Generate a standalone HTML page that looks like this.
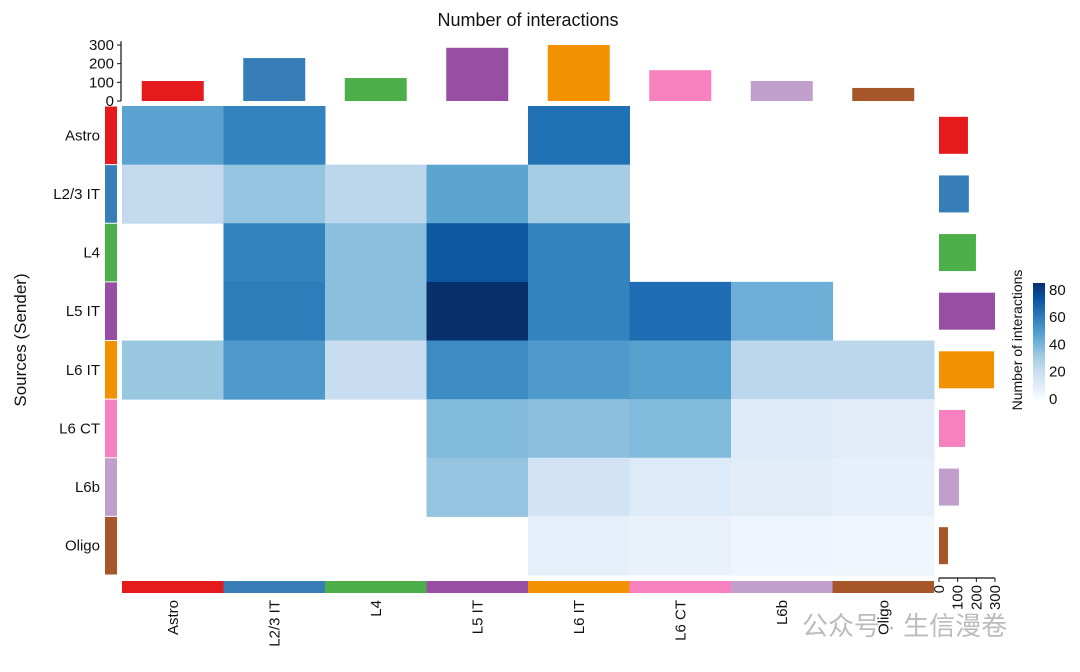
<!DOCTYPE html>
<html><head><meta charset="utf-8"><style>
body{margin:0;background:#fff;}
svg text{font-family:"Liberation Sans","Noto Sans CJK SC",sans-serif;fill:#111;}
</style></head><body>
<svg id="chart" width="1080" height="667" viewBox="0 0 1080 667" xmlns="http://www.w3.org/2000/svg">
<text x="528" y="26" font-size="18" text-anchor="middle">Number of interactions</text>
<text transform="translate(26,340) rotate(-90)" font-size="17" text-anchor="middle">Sources (Sender)</text>
<g id="g"></g>
<text x="802" y="635" font-size="26" fill="#bbb" style="fill:#bbb">公众号 · 生信漫卷</text>
</svg>
<script>
const categories=["Astro","L2/3 IT","L4","L5 IT","L6 IT","L6 CT","L6b","Oligo"];
const catColors=["#E41A1C","#377EB8","#4DAF4A","#984EA3","#F39200","#F781BF","#C09FCC","#A65628"];
const topTotals=[107,230,123,285,300,165,107,70];
const rightTotals=[155,160,198,300,295,140,107,48];
const matrix=[
[47,58,null,null,64,null,null,null],
[22,34,24,46,30,null,null,null],
[null,58,36,72,58,null,null,null],
[null,60,36,85,58,65,42,null],
[33,50,20,55,50,48,24,24],
[null,null,null,38,36,38,11,9],
[null,null,null,34,16,11,9,7],
[null,null,null,null,7,6,4,3]];
const legendTicks=[0,20,40,60,80];
const barTicks=[0,100,200,300];
const NS="http://www.w3.org/2000/svg";
const g=document.getElementById('g');
function el(t,a,p){const e=document.createElementNS(NS,t);for(const k in a)e.setAttribute(k,a[k]);(p||g).appendChild(e);return e;}
const X0=122,X1=934,Y0=106,Y1=575,n=categories.length;
const cw=(X1-X0)/n,ch=(Y1-Y0)/n;
const xCol=i=>X0+i*cw, yRow=i=>Y0+i*ch;
const stops=[[247,251,255],[222,235,247],[198,219,239],[158,202,225],[107,174,214],[66,146,198],[33,113,181],[8,81,156],[8,48,107]];
function blue(v){let t=Math.max(0,Math.min(1,v/85))*(stops.length-1);const i=Math.min(stops.length-2,Math.floor(t)),f=t-i;const c=stops[i].map((s,k)=>Math.round(s+(stops[i+1][k]-s)*f));return `rgb(${c})`;}
matrix.forEach((row,r)=>row.forEach((v,c)=>{if(v===null)return;
 const e=el('rect',{x:xCol(c),y:yRow(r),width:cw+0.5,height:ch+0.5,fill:blue(v)});
 
 }));
const topS=v=>101-v*(56/300), rightS=v=>939+v*(56/300);
categories.forEach((name,i)=>{
 let e=el('rect',{x:105,y:yRow(i)+0.5,width:12,height:ch-1,fill:catColors[i]});
 
 
 e=el('rect',{x:xCol(i),y:581,width:cw,height:12,fill:catColors[i]});
 
 
 e=el('text',{x:100,y:yRow(i)+ch/2+5,'font-size':15,'text-anchor':'end'});e.textContent=name;
 
 
 e=el('text',{transform:`translate(${xCol(i)+cw/2+5},600) rotate(-90)`,'font-size':15,'text-anchor':'end'});e.textContent=name;
 
 
 e=el('rect',{x:xCol(i)+cw/2-31,y:topS(topTotals[i]),width:62,height:101-topS(topTotals[i]),fill:catColors[i]});
 
 
 e=el('rect',{x:939,y:yRow(i)+ch/2-18.5,width:rightS(rightTotals[i])-939,height:37,fill:catColors[i]});
 
 
});
let ax=el('line',{x1:121,x2:121,y1:topS(320),y2:101,stroke:'#111','stroke-width':1.2});


barTicks.forEach(t=>{el('line',{x1:117,x2:121,y1:topS(t),y2:topS(t),stroke:'#111'});
 const e=el('text',{x:114,y:topS(t)+5,'font-size':15,'text-anchor':'end'});e.textContent=t;
 
 });
ax=el('line',{x1:939,x2:rightS(300),y1:578,y2:578,stroke:'#111','stroke-width':1.2});


barTicks.forEach(t=>{el('line',{x1:rightS(t),x2:rightS(t),y1:578,y2:582,stroke:'#111'});
 const e=el('text',{transform:`translate(${rightS(t)+5},585) rotate(-90)`,'font-size':15,'text-anchor':'end'});e.textContent=t;
 
 });
const defs=el('defs',{});const lg=el('linearGradient',{id:'lg',x1:0,y1:1,x2:0,y2:0},defs);
stops.forEach((s,i)=>el('stop',{offset:i/(stops.length-1),'stop-color':`rgb(${s})`},lg));
const LY0=399,LY1=283,ly=v=>LY0-(v/85)*(LY0-LY1);
let e=el('rect',{x:1033,y:LY1,width:12,height:LY0-LY1,fill:'url(#lg)'});


legendTicks.forEach(t=>{const e=el('text',{x:1049,y:ly(t)+5,'font-size':15});e.textContent=t;
 
 });
e=el('text',{transform:'translate(1022,340) rotate(-90)','font-size':14,'text-anchor':'middle'});e.textContent='Number of interactions';


</script>
</body></html>
